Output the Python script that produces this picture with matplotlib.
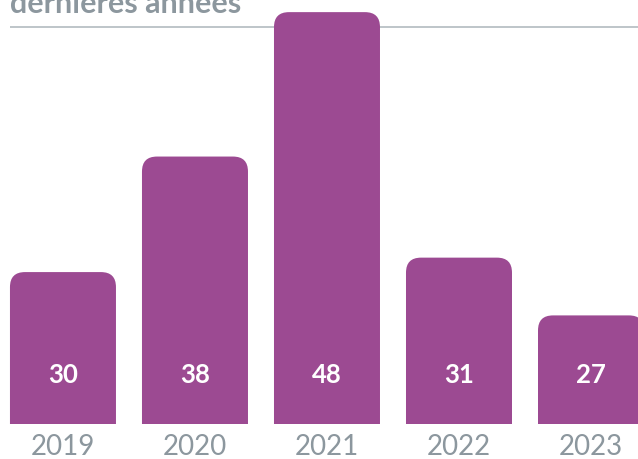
import matplotlib
matplotlib.use("Agg")
import matplotlib.pyplot as plt
from matplotlib.patches import FancyBboxPatch

years = ["2019", "2020", "2021", "2022", "2023"]
values = [30, 38, 48, 31, 27]
title = "dernières années"

BAR_COLOR = "#9c4a92"
GREY_TEXT = "#8c979e"
LINE_COLOR = "#b9c0c5"

W, H = 638, 459
fig = plt.figure(figsize=(W / 100, H / 100), dpi=100)
# axes spans full width, from bar baseline (px 424) to top edge
ax = fig.add_axes([0, 1 - 424 / H, 1, 424 / H])
ax.set_xlim(-0.477, 4.356)
ax.set_ylim(19.48, 48.84)
ax.axis("off")

# grey rule under the (cut-off) title, behind the bars
ax.hlines(46.97, -0.40, 4.5, color=LINE_COLOR, linewidth=1.3, zorder=1)

x = list(range(len(years)))
bars = ax.bar(x, values, width=0.803, bottom=0, color=BAR_COLOR, zorder=2)

# swap plain bars for rounded-top boxes (bottom corners fall below the axes and get clipped)
px_x = 132.0          # pixels per x unit
px_y = 424 / (48.84 - 19.48)
r = 15.0              # corner radius in pixels
for b in bars:
    x0, w, h = b.get_x(), b.get_width(), b.get_height()
    b.remove()
    y0 = 19.48 - 3
    patch = FancyBboxPatch((x0, y0), w, h - y0,
                           boxstyle=f"round,pad=0,rounding_size={r / px_x}",
                           mutation_aspect=px_x / px_y,
                           facecolor=BAR_COLOR, edgecolor="none", zorder=2)
    ax.add_patch(patch)

for xi, v in zip(x, values):
    ax.text(xi, 19.48 + 49 / px_y, str(v), ha="center", va="center",
            fontsize=18.5, fontweight="bold", color="white", family="Lato", zorder=3)

for xi, yr in zip(x, years):
    fig.text((63 + 132 * xi) / W, 1 - 447 / H, yr, ha="center", va="center",
             fontsize=20, color=GREY_TEXT, family="Lato")

fig.text(10 / W, 1 - 13 / H, title, ha="left", va="baseline",
         fontsize=22, fontweight="bold", color=GREY_TEXT, family="Lato")

fig.savefig("out.png", dpi=100)
